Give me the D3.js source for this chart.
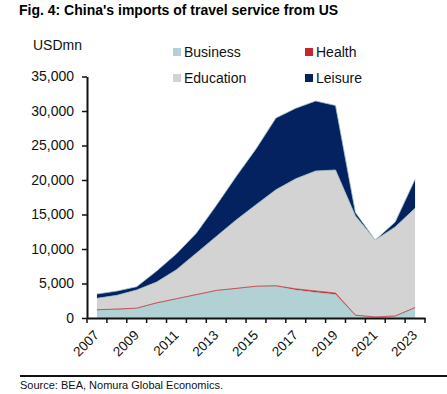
<!DOCTYPE html>
<html><head><meta charset="utf-8">
<script src="https://cdn.jsdelivr.net/npm/d3@7/dist/d3.min.js"></script>
<style>
body{margin:0;background:#fff;}
svg{display:block;font-family:"Liberation Sans",Arial,sans-serif;}
</style></head>
<body>
<script>
const years = [2007,2008,2009,2010,2011,2012,2013,2014,2015,2016,2017,2018,2019,2020,2021,2022,2023];
const business  = [1150,1250,1380,2150,2750,3350,3950,4250,4550,4600,4050,3700,3400,380,130,250,1450];
const health    = [50,50,50,50,50,50,50,50,60,80,180,220,220,40,20,50,70];
const education = [1650,1980,2630,3000,4200,6000,7800,9900,11800,13900,15950,17380,17830,14380,11150,12900,14380];
const leisure   = [630,620,480,1600,2300,2900,4500,6300,8100,10400,10220,10150,9350,500,0,700,4200];
const seriesNames = ["Business","Health","Education","Leisure"];
const seriesColors = ["#b2d1d5","#c8262c","#d3d3d3","#03225f"];
const yTicks = [0,5000,10000,15000,20000,25000,30000,35000];
const xLabelYears = [2007,2009,2011,2013,2015,2017,2019,2021,2023];

const W=447,H=394;
const svg=d3.select("body").append("svg").attr("width",W).attr("height",H);

svg.append("text").attr("x",19).attr("y",15).attr("font-size",14).attr("font-weight","bold")
  .attr("fill","#000").text("Fig. 4: China's imports of travel service from US");
svg.append("text").attr("x",33).attr("y",50).attr("font-size",14).attr("fill","#111").text("USDmn");

const x=d3.scaleBand().domain(years).range([87,425]).padding(0);
const y=d3.scaleLinear().domain([0,35000]).range([318,76.5]);
const xc=d=>x(d)+x.bandwidth()/2;

const rows=years.map((yr,i)=>({year:yr,Business:business[i],Health:health[i],Education:education[i],Leisure:leisure[i]}));
const stack=d3.stack().keys(seriesNames)(rows);
const area=d3.area().x(d=>xc(d.data.year)).y0(d=>y(d[0])).y1(d=>y(d[1]));
const line=d3.line().x(d=>xc(d.data.year)).y(d=>y(d[1]));

svg.append("g").selectAll("path").data(stack).join("path")
  .attr("d",area).attr("fill",(d,i)=>seriesColors[i]);
svg.append("g").selectAll("path").data(stack).join("path")
  .attr("d",line).attr("fill","none")
  .attr("stroke",(d,i)=>i===1?"#c8262c":"#a6c4c9").attr("stroke-width",(d,i)=>i===1?1:0.9).attr("opacity",(d,i)=>i===1?0.7:0.9);

// y axis
const ya=svg.append("g").attr("transform","translate(87,0)")
  .call(d3.axisLeft(y).tickValues(yTicks).tickFormat(d3.format(",")).tickSize(5).tickSizeOuter(0).tickPadding(8));
ya.select(".domain").attr("stroke","#111").attr("stroke-width",2);
ya.selectAll(".tick line").attr("stroke","#111").attr("stroke-width",1.5);
ya.selectAll(".tick text").attr("font-size",14).attr("fill","#111").attr("font-family","Liberation Sans,Arial,sans-serif");

// x axis
const xa=svg.append("g").attr("transform","translate(0,318)")
  .call(d3.axisBottom(x).tickValues(xLabelYears).tickSize(0).tickSizeOuter(0).tickPadding(0));
xa.select(".domain").attr("stroke","#111").attr("stroke-width",2);
xa.selectAll(".tick text").attr("font-size",13.5).attr("fill","#111").attr("font-family","Liberation Sans,Arial,sans-serif")
  .attr("text-anchor","end").attr("dy",null).attr("y",0)
  .attr("transform","translate(3,18) rotate(-45)");
const bounds=years.map(d=>x(d)).concat([x(years[years.length-1])+x.bandwidth()]);
svg.append("g").selectAll("line").data(bounds).join("line")
  .attr("x1",d=>d).attr("x2",d=>d).attr("y1",318).attr("y2",323)
  .attr("stroke","#111").attr("stroke-width",1.5);

// legend
const legPos=[[173,52],[305,52],[173,78],[305,78]];
const lg=svg.append("g").selectAll("g").data(seriesNames).join("g")
  .attr("transform",(d,i)=>`translate(${legPos[i][0]},${legPos[i][1]})`);
lg.append("rect").attr("x",0).attr("y",-4).attr("width",8).attr("height",8).attr("fill",(d,i)=>seriesColors[i]);
lg.append("text").attr("x",11).attr("y",5).attr("font-size",14).attr("fill","#111").text(d=>d);

// footer
svg.append("line").attr("x1",20).attr("x2",447).attr("y1",376).attr("y2",376).attr("stroke","#111").attr("stroke-width",2);
svg.append("text").attr("x",20).attr("y",389).attr("font-size",11).attr("fill","#111").text("Source: BEA, Nomura Global Economics.");
</script>
</body></html>
